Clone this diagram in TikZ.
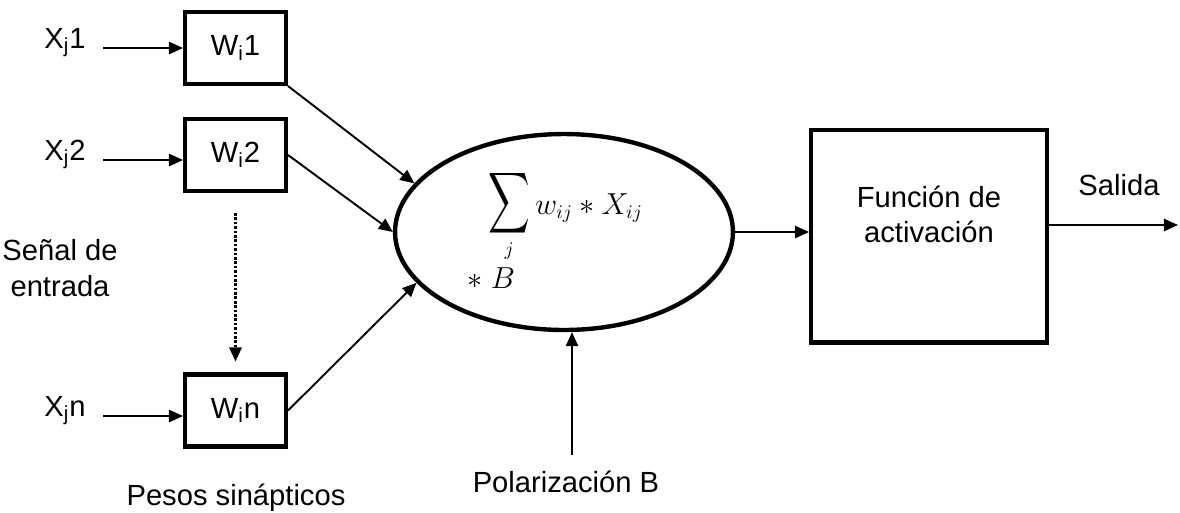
\documentclass[tikz,border=0pt]{standalone}
\usepackage{amsmath}
\usepackage{fontspec}
\setmainfont{Liberation Sans}
\usetikzlibrary{positioning,arrows.meta,shapes.geometric}

\begin{document}
\begin{tikzpicture}[x=0.02cm, y=-0.02cm,
  font=\fontsize{16.6}{20}\selectfont,
  wbox/.style={draw, line width=2.3pt, minimum width=2.02cm,
               minimum height=1.44cm, inner sep=0pt},
  lbl/.style={inner sep=2pt, align=center},
  mth/.style={anchor=base west, inner sep=0pt, font=\fontsize{16}{19}\selectfont},
  arr/.style={-{Triangle[length=8pt,width=7pt]}, line width=1.1pt}]
\useasboundingbox (0,0) rectangle (1180,512);
% pesos
\node[wbox] (w1) at (235.5,48) {W\textsubscript{i}1};
\node[wbox] (w2) at (235.5,155) {W\textsubscript{i}2};
\node[wbox] (wn) at (235.5,410.5) {W\textsubscript{i}n};
% entradas
\node[lbl, anchor=base] (x1) at (65,48) {X\textsubscript{j}1};
\node[lbl, anchor=base] (x2) at (65,160) {X\textsubscript{j}2};
\node[lbl, anchor=base] (xn) at (65,416) {X\textsubscript{j}n};
\node[lbl] (senal) at (60,268) {Señal de\\entrada};
\node[lbl, anchor=base] (pesos) at (236,505) {Pesos sinápticos};
% sumador
\node[draw, ellipse, line width=2.5pt, minimum width=6.76cm,
      minimum height=3.92cm] (nsum) at (564,232) {};
\node[mth] (suma) at (488,214)
  {$\mathop{\scalebox{0.95}[1.4]{$\displaystyle\sum$}}\limits_j w_{ij} * X_{ij}$};
\node[mth] (bias) at (467,288) {$*\;B$};
\coordinate (pb) at (572,455);
\node[lbl, anchor=base] (pol) at (566,492) {Polarización B};
% activacion
\node[wbox, minimum width=4.72cm, minimum height=4.26cm] (act) at (929,236) {};
\node[lbl] (acttxt) at (929,214) {Función de\\activación};
\coordinate (out) at (1178,225);
\node[lbl] (salida) at (1119,185) {Salida};
% flechas
\draw[arr, shorten <=8pt] (x1.base east) -- (x1.base east -| w1.west);
\draw[arr, shorten <=8pt] (x2.base east) -- (x2.base east -| w2.west);
\draw[arr, shorten <=8pt] (xn.base east) -- (xn.base east -| wn.west);
\draw[arr, line width=1.3pt, dash pattern=on 1.5pt off 1pt,
      shorten <=0.4cm, shorten >=0.22cm] (w2) -- (wn);
\draw[arr] (w1.south east) -- (nsum.162);
\draw[arr] (w2.east) -- (nsum.180);
\draw[arr] (wn.east) -- (nsum.199);
\draw[arr] (pb) -- (pb |- nsum.south);
\draw[arr] (nsum.east) -- (nsum.east -| act.west);
\draw[arr] (act.east |- out) -- (out);
\end{tikzpicture}
\end{document}
